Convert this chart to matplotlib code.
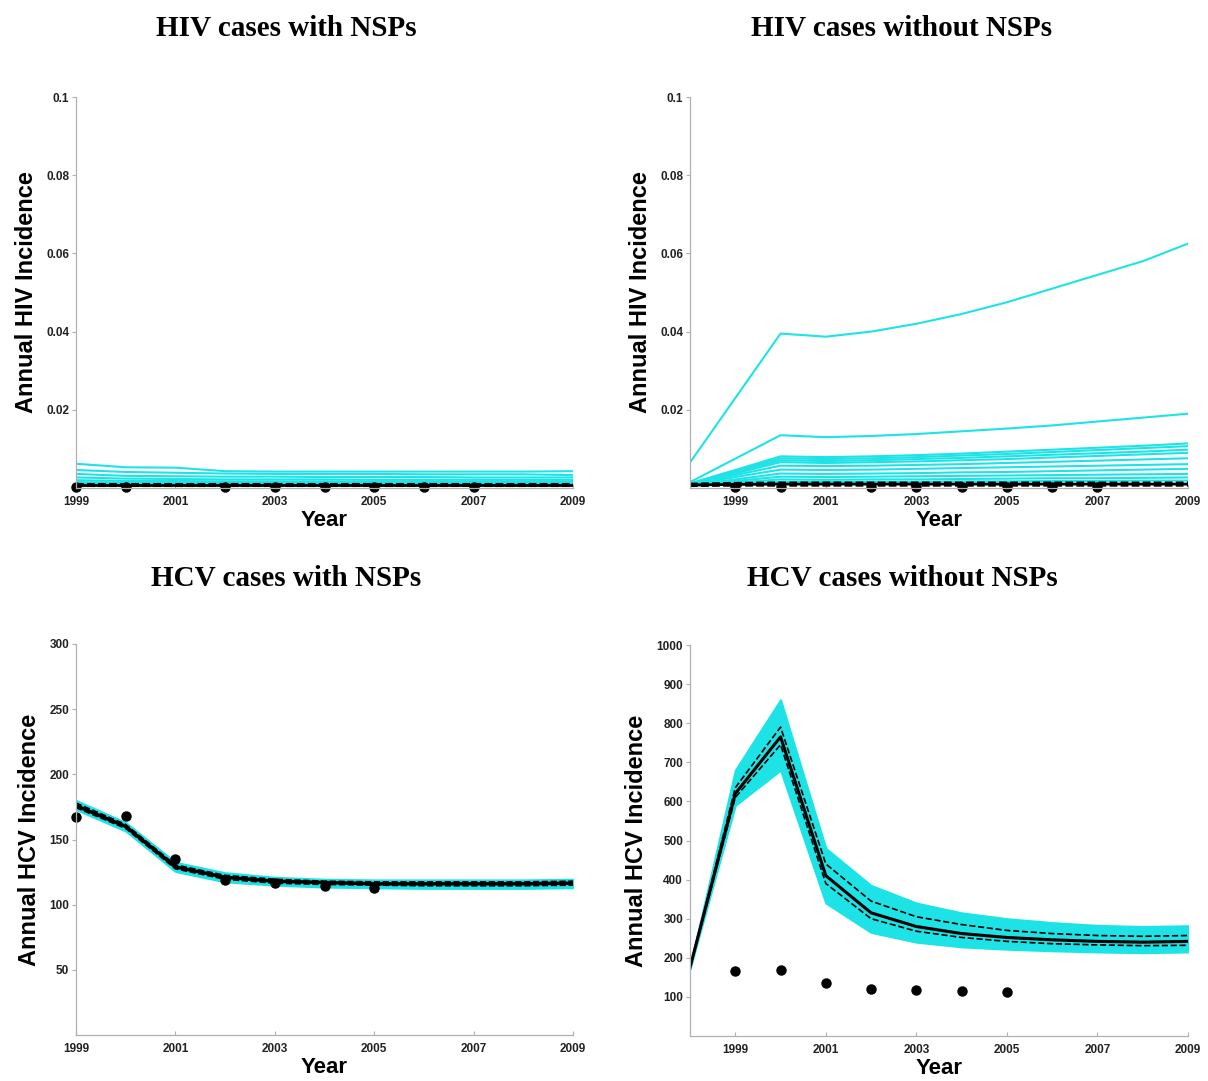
import numpy as np
import matplotlib
matplotlib.use("Agg")
import matplotlib.pyplot as plt

# ---- data ----
obs_years = [1999, 2000, 2002, 2003, 2004, 2005, 2006, 2007]
hiv_obs = [0.0002, 0.0002, 0.0002, 0.0002, 0.0002, 0.0002, 0.0002, 0.0002]

hcv_obs_years = [1999, 2000, 2001, 2002, 2003, 2004, 2005]
hcv_obs = [167, 168, 135, 119, 117, 114, 113]

# HIV with NSPs (1999-2009)
years_a = [1999, 2000, 2001, 2002, 2003, 2004, 2005, 2006, 2007, 2008, 2009]
hiv_nsp_runs = [
    [0.0062, 0.0053, 0.0052, 0.0043, 0.0042, 0.0042, 0.0042, 0.0042, 0.0042, 0.0042, 0.0043],
    [0.0046, 0.0041, 0.0039, 0.0037, 0.0036, 0.0036, 0.0036, 0.0035, 0.0035, 0.0035, 0.0033],
    [0.0036, 0.0031, 0.0030, 0.0029, 0.0029, 0.0028, 0.0028, 0.0028, 0.0027, 0.0027, 0.0027],
    [0.0027, 0.0024, 0.0023, 0.0022, 0.0022, 0.0022, 0.0021, 0.0021, 0.0021, 0.0021, 0.0021],
    [0.0020, 0.0018, 0.0018, 0.0017, 0.0017, 0.0017, 0.0017, 0.0017, 0.0017, 0.0017, 0.0017],
    [0.0015, 0.0014, 0.0014, 0.0013, 0.0013, 0.0013, 0.0013, 0.0013, 0.0013, 0.0013, 0.0013],
    [0.0011, 0.0010, 0.0010, 0.0010, 0.0010, 0.0010, 0.0010, 0.0010, 0.0010, 0.0010, 0.0010],
]
hiv_nsp_med = [0.0007] * 11
hiv_nsp_lo = [0.0004] * 11
hiv_nsp_hi = [0.0010] * 11

# HIV without NSPs (1998-2009)
years_b = [1998, 1999, 2000, 2001, 2002, 2003, 2004, 2005, 2006, 2007, 2008, 2009]
hiv_no_runs = [
    [0.0065, 0.0230, 0.0395, 0.0387, 0.0400, 0.0420, 0.0445, 0.0475, 0.0510, 0.0545, 0.0580, 0.0625],
    [0.0015, 0.0075, 0.0135, 0.0130, 0.0133, 0.0138, 0.0145, 0.0152, 0.0160, 0.0170, 0.0180, 0.0190],
    [0.0012, 0.0046, 0.0081, 0.0079, 0.0081, 0.0084, 0.0088, 0.0093, 0.0098, 0.0103, 0.0108, 0.0114],
    [0.0011, 0.0043, 0.0076, 0.0074, 0.0076, 0.0079, 0.0083, 0.0087, 0.0092, 0.0097, 0.0102, 0.0107],
    [0.0010, 0.0040, 0.0071, 0.0069, 0.0071, 0.0074, 0.0077, 0.0081, 0.0085, 0.0089, 0.0093, 0.0098],
    [0.0010, 0.0037, 0.0066, 0.0064, 0.0066, 0.0068, 0.0071, 0.0074, 0.0078, 0.0082, 0.0086, 0.0090],
    [0.0009, 0.0033, 0.0057, 0.0056, 0.0057, 0.0059, 0.0061, 0.0064, 0.0067, 0.0070, 0.0073, 0.0076],
    [0.0008, 0.0028, 0.0047, 0.0046, 0.0047, 0.0049, 0.0051, 0.0053, 0.0055, 0.0057, 0.0059, 0.0061],
    [0.0007, 0.0022, 0.0037, 0.0036, 0.0037, 0.0038, 0.0040, 0.0041, 0.0043, 0.0045, 0.0047, 0.0049],
    [0.0006, 0.0018, 0.0029, 0.0028, 0.0029, 0.0030, 0.0031, 0.0032, 0.0033, 0.0034, 0.0035, 0.0036],
    [0.0005, 0.0014, 0.0022, 0.0021, 0.0022, 0.0022, 0.0023, 0.0024, 0.0025, 0.0025, 0.0026, 0.0027],
    [0.0005, 0.0010, 0.0016, 0.0016, 0.0016, 0.0016, 0.0017, 0.0017, 0.0018, 0.0018, 0.0019, 0.0019],
]
hiv_no_med = [0.0008, 0.0009, 0.0010, 0.0010, 0.0010, 0.0010, 0.0010, 0.0010, 0.0010, 0.0010, 0.0010, 0.0010]
hiv_no_lo = [0.0005, 0.0006, 0.0006, 0.0006, 0.0006, 0.0006, 0.0006, 0.0006, 0.0006, 0.0006, 0.0006, 0.0006]
hiv_no_hi = [0.0011, 0.0013, 0.0014, 0.0014, 0.0014, 0.0014, 0.0014, 0.0014, 0.0014, 0.0014, 0.0014, 0.0014]

# HCV with NSPs (1999-2009)
hcv_nsp_upper = [180, 163, 132.5, 124.5, 121, 119.5, 119, 119, 119, 119, 119.5]
hcv_nsp_lower = [173, 156.5, 125.5, 117.5, 115, 113.5, 113, 112.5, 112.5, 112.5, 113]
hcv_nsp_med = [176, 160, 129, 121, 118, 117, 116, 116, 116, 116, 116.5]
hcv_nsp_hi = [178, 161.5, 130.5, 122.5, 119.5, 118, 117.5, 117.5, 117.5, 117.5, 118]
hcv_nsp_lo = [174.5, 158.5, 127.5, 119.5, 116.5, 115.5, 115, 114.5, 114.5, 114.5, 115]

# HCV without NSPs (1998-2009)
hcv_no_upper = [178, 680, 860, 480, 385, 340, 315, 300, 290, 283, 280, 282]
hcv_no_lower = [172, 590, 680, 340, 265, 240, 228, 222, 218, 215, 213, 215]
hcv_no_med = [175, 620, 765, 410, 315, 280, 262, 252, 246, 242, 240, 242]
hcv_no_hi = [175, 635, 790, 440, 345, 305, 285, 270, 262, 257, 255, 257]
hcv_no_lo = [175, 610, 745, 390, 300, 268, 252, 242, 236, 233, 231, 232]

cyan = "#1ee3e6"
SANS = "Liberation Sans"
SERIF = "Liberation Serif"

fig = plt.figure(figsize=(12.08, 10.81), dpi=100)

W, H = 1208.0, 1081.0
def place(x0, y0, x1, y1):
    return fig.add_axes([x0 / W, 1 - y1 / H, (x1 - x0) / W, (y1 - y0) / H])

ax1 = place(76, 97, 573, 488)
ax2 = place(690, 97, 1188, 488)
ax3 = place(76, 644, 573, 1035)
ax4 = place(690, 645, 1188, 1036)


def style(ax, xlim, ylim, yticks, ylabels, ylab):
    ax.set_xlim(*xlim)
    ax.set_ylim(*ylim)
    ax.set_xticks([1999, 2001, 2003, 2005, 2007, 2009])
    ax.set_xticklabels(["1999", "2001", "2003", "2005", "2007", "2009"],
                       fontsize=8.5, fontweight="bold", family=SANS, color="#222222")
    ax.set_yticks(yticks)
    ax.set_yticklabels(ylabels, fontsize=8.5, fontweight="bold", family=SANS, color="#222222")
    for s in ["top", "right"]:
        ax.spines[s].set_visible(False)
    for s in ["left", "bottom"]:
        ax.spines[s].set_color("#b0b0b0")
        ax.spines[s].set_linewidth(0.9)
    ax.tick_params(axis="both", colors="#b0b0b0", length=3, width=0.8,
                   labelcolor="#222222", pad=2)
    ax.tick_params(axis="x", direction="in", pad=6)
    ax.set_xlabel("Year", fontsize=16, fontweight="bold", family=SANS, labelpad=1)
    ax.set_ylabel(ylab, fontsize=17, fontweight="bold", family=SANS, labelpad=6)


# HIV with NSPs
for run in hiv_nsp_runs:
    ax1.plot(years_a, run, color=cyan, lw=1.5)
ax1.plot(years_a, hiv_nsp_med, color="black", lw=2)
ax1.plot(years_a, hiv_nsp_lo, color="black", lw=1.5, ls="--")
ax1.plot(years_a, hiv_nsp_hi, color="black", lw=1.5, ls="--")
ax1.plot(obs_years, hiv_obs, "o", color="black", ms=6.5, clip_on=False)
style(ax1, (1999, 2009), (0, 0.1), [0.02, 0.04, 0.06, 0.08, 0.1],
      ["0.02", "0.04", "0.06", "0.08", "0.1"], "Annual HIV Incidence")

# HIV without NSPs
for run in hiv_no_runs:
    ax2.plot(years_b, run, color=cyan, lw=1.5)
ax2.plot(years_b, hiv_no_med, color="black", lw=2)
ax2.plot(years_b, hiv_no_lo, color="black", lw=1.5, ls="--")
ax2.plot(years_b, hiv_no_hi, color="black", lw=1.5, ls="--")
ax2.plot(obs_years, hiv_obs, "o", color="black", ms=6.5, clip_on=False)
style(ax2, (1998, 2009), (0, 0.1), [0.02, 0.04, 0.06, 0.08, 0.1],
      ["0.02", "0.04", "0.06", "0.08", "0.1"], "Annual HIV Incidence")

# HCV with NSPs
ax3.fill_between(years_a, hcv_nsp_lower, hcv_nsp_upper, color=cyan, lw=1.5, edgecolor=cyan)
ax3.plot(years_a, hcv_nsp_med, color="black", lw=2.5)
ax3.plot(years_a, hcv_nsp_hi, color="black", lw=1.2, ls="--")
ax3.plot(years_a, hcv_nsp_lo, color="black", lw=1.2, ls="--")
ax3.plot(hcv_obs_years, hcv_obs, "o", color="black", ms=6.5, clip_on=False)
style(ax3, (1999, 2009), (0, 300), [50, 100, 150, 200, 250, 300],
      ["50", "100", "150", "200", "250", "300"], "Annual HCV Incidence")

# HCV without NSPs
ax4.fill_between(years_b, hcv_no_lower, hcv_no_upper, color=cyan, lw=1.5, edgecolor=cyan)
ax4.plot(years_b, hcv_no_med, color="black", lw=2.2)
ax4.plot(years_b, hcv_no_hi, color="black", lw=1.2, ls="--")
ax4.plot(years_b, hcv_no_lo, color="black", lw=1.2, ls="--")
ax4.plot(hcv_obs_years, hcv_obs, "o", color="black", ms=6.5, clip_on=False)
style(ax4, (1998, 2009), (0, 1000), list(range(100, 1001, 100)),
      [str(v) for v in range(100, 1001, 100)], "Annual HCV Incidence")

# panel titles
tkw = dict(fontsize=21, fontweight="bold", family=SERIF, ha="center", va="center")
fig.text(286 / W, 1 - 29 / H, "HIV cases with NSPs", **tkw)
fig.text(902 / W, 1 - 29 / H, "HIV cases without NSPs", **tkw)
fig.text(286 / W, 1 - 579 / H, "HCV cases with NSPs", **tkw)
fig.text(902 / W, 1 - 579 / H, "HCV cases without NSPs", **tkw)

fig.savefig("out.png", dpi=100)
